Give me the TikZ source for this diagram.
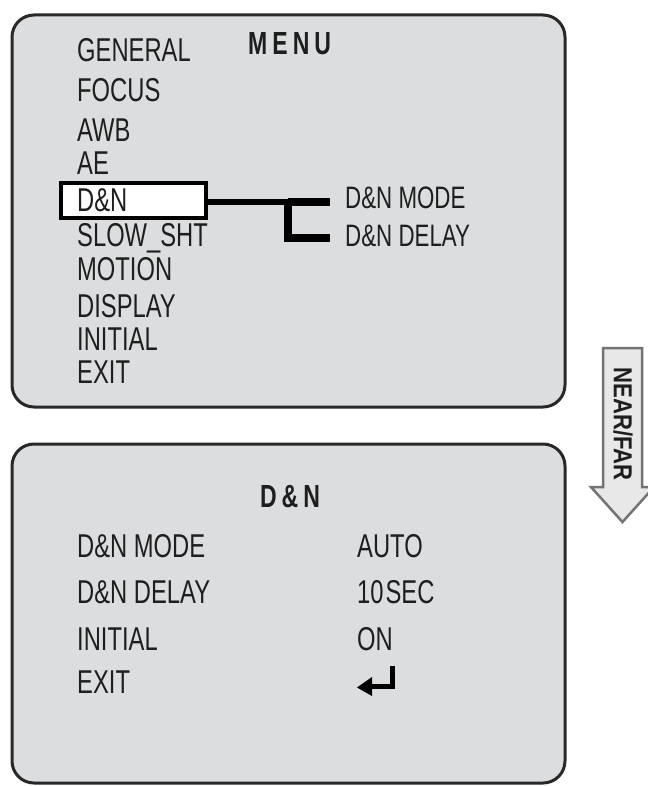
\documentclass[tikz,border=0pt]{standalone}
\usepackage{fontspec}
\setmainfont{Liberation Sans}[FakeStretch=0.72]
\newfontfamily\arrowfont{Liberation Sans}[FakeStretch=0.85]
\definecolor{boxfill}{RGB}{220,221,223}
\definecolor{boxline}{RGB}{40,40,40}
\definecolor{arrowfill}{RGB}{232,232,232}
\definecolor{arrowline}{RGB}{115,115,115}
\definecolor{txt}{RGB}{30,30,30}
\tikzset{
  panel/.style={draw=boxline, fill=boxfill, line width=3pt, rounded corners=22pt},
  item/.style={anchor=base west, inner sep=0pt, text=txt, font=\fontsize{33}{33}\selectfont},
  subitem/.style={anchor=base west, inner sep=0pt, text=txt, font=\fontsize{31}{31}\selectfont},
  ttl/.style={anchor=base, inner sep=0pt, text=txt, font=\fontsize{32}{32}\selectfont\bfseries},
  wire/.style={draw=black, line width=6pt},
  bracket/.style={draw=black, line width=8pt}
}
\begin{document}
\begin{tikzpicture}[x=1pt,y=-1pt]
\fill[white] (0,0) rectangle (647,786);
\useasboundingbox (0,0) rectangle (647,786);

% panels
\path[panel] (12,15) rectangle (565,407);
\path[panel] (12,444) rectangle (565,783);

% top menu
\node[ttl, anchor=base west] (menutitle) at (248,55) {M\hspace{5pt}E\hspace{5pt}N\hspace{5pt}U};
\node[item] (general) at (77,62) {GENERAL};
\node[item] (focus) at (77,102) {FOCUS};
\node[item] (awb) at (77,142) {AWB};
\node[item] (ae) at (77,175) {AE};
\node[draw=black, fill=white, line width=3.5pt, minimum width=145pt, minimum height=35pt, inner sep=0pt] (dnbox) at (133.5,200.5) {};
\node[item] (dn) at (77,212) {D\&N};
\node[item] (slow) at (77,247) {SLOW\_SHT};
\node[item] (motion) at (77,280) {MOTION};
\node[item] (display) at (77,317) {DISPLAY};
\node[item] (initial) at (77,350) {INITIAL};
\node[item] (exit) at (77,383) {EXIT};

\node[subitem] (mode) at (345,208) {D\&N MODE};
\node[subitem] (delay) at (345,247) {D\&N DELAY};

\coordinate (j) at (288,202);
\coordinate (e1) at (330,202);
\coordinate (e2) at (330,238);
\draw[wire] (dnbox.east |- j) -- (j);
\draw[bracket] (j) -- (e1);
\draw[bracket] (j) -- (j |- e2) -- (e2);

% bottom menu
\node[ttl] (dntitle) at (290,507) {D\hspace{5pt}\&\hspace{5pt}N};
\node[item] (bmode) at (77,557) {D\&N MODE};
\node[item] (bdelay) at (77,603) {D\&N DELAY};
\node[item] (binit) at (77,650) {INITIAL};
\node[item] (bexit) at (77,693) {EXIT};
\node[item] (vauto) at (357,557) {AUTO};
\node[item] (vsec) at (357,603) {10\hspace{2pt}SEC};
\node[item] (von) at (357,650) {ON};
% return symbol
\draw[line width=5pt, draw=black] (392,666) -- (392,686) -- (370,686);
\fill[black] (372,677) -- (357,687.5) -- (372,696) -- cycle;

% NEAR/FAR arrow
\draw[draw=arrowline, fill=arrowfill, line width=2.5pt, line join=miter]
  (603,348) -- (642,348) -- (642,487) -- (654,487) -- (622.5,522) -- (591,487) -- (603,487) -- cycle;
\node[rotate=-90, inner sep=0pt, text=txt, font=\fontsize{26}{26}\selectfont\arrowfont\bfseries] (nearfar) at (623,424) {NEAR/FAR};
\end{tikzpicture}
\end{document}
